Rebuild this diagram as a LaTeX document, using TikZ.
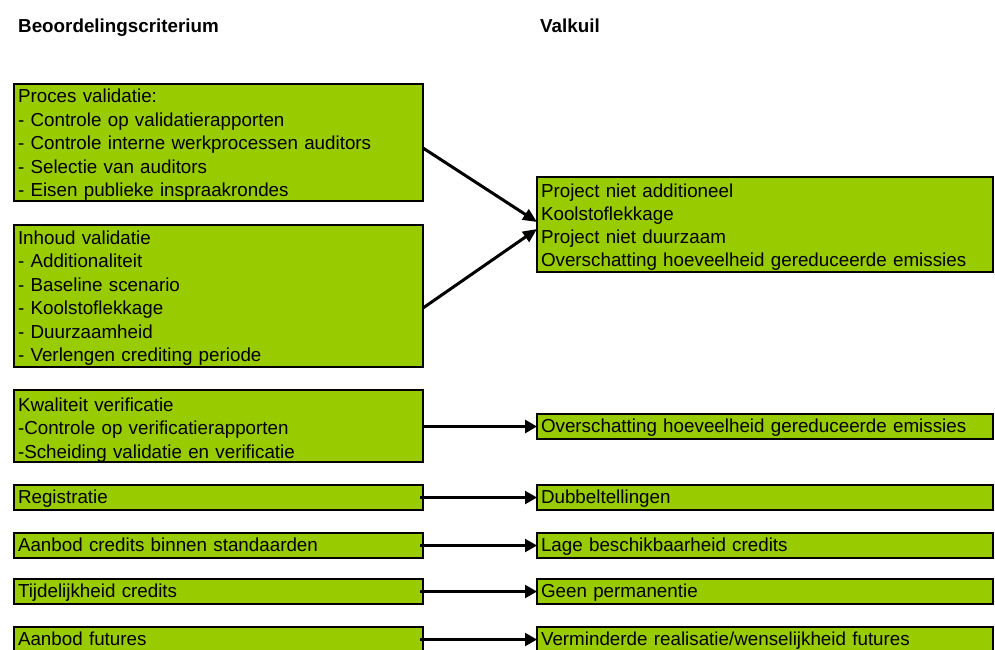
\documentclass[tikz,border=0pt]{standalone}
\usepackage{fontspec}
\setmainfont{Liberation Sans}
\usetikzlibrary{arrows.meta,calc,shadows}
\definecolor{boxgreen}{RGB}{153,204,0}
\tikzset{
  gbox/.style={draw=black, line width=1.8pt, fill=boxgreen,
    drop shadow={shadow xshift=1.1pt, shadow yshift=-1.1pt, fill=black, opacity=1},
    anchor=north west, inner xsep=4pt, inner ysep=0pt, outer sep=0pt,
    align=left, font=\fontsize{18.8}{23.5}\selectfont},
  lbox/.style={gbox, text width=401pt, minimum width=409pt},
  rbox/.style={gbox, text width=448pt, minimum width=456pt},
  single/.style={text height=18pt, text depth=7pt},
  head/.style={anchor=base west, inner sep=0pt, font=\fontsize{18.8}{23.5}\selectfont\bfseries},
  thinarrow/.style={line width=2.3pt, -{Triangle[length=12pt,width=13pt]}},
  thickarrow/.style={line width=3.8pt, -{Triangle[length=12pt,width=13pt]}},
  diagarrow/.style={line width=3pt, -{Triangle[length=14pt,width=12pt]}},
}
\begin{document}
\begin{tikzpicture}[x=1pt,y=-1pt]
\useasboundingbox (0,0) rectangle (995,649);
\clip (0,0) rectangle (995,649);

\node[head] (h1) at (18,32) {Beoordelingscriterium};
\node[head] (h2) at (540,32) {Valkuil};

% left column
\node[lbox, text height=18.7pt, text depth=98.3pt] (b1) at (14,84)
  {Proces validatie:\\- Controle op validatierapporten\\- Controle interne werkprocessen auditors\\- Selectie van auditors\\- Eisen publieke inspraakrondes};
\node[lbox, text height=19.3pt, text depth=122.7pt] (b2) at (14,225)
  {Inhoud validatie\\- Additionaliteit\\- Baseline scenario\\- Koolstoflekkage\\- Duurzaamheid\\- Verlengen crediting periode};
\node[lbox, text height=21pt, text depth=51pt] (b3) at (14,390)
  {Kwaliteit verificatie\\-Controle op verificatierapporten\\-Scheiding validatie en verificatie};
\node[lbox, single] (b4) at (14,485) {Registratie};
\node[lbox, single] (b5) at (14,533) {Aanbod credits binnen standaarden};
\node[lbox, single] (b6) at (14,579) {Tijdelijkheid credits};
\node[lbox, single] (b7) at (14,627) {Aanbod futures};

% right column
\node[rbox, text height=20pt, text depth=75pt, font=\fontsize{18.8}{23.3}\selectfont] (r1) at (537,177)
  {Project niet additioneel\\Koolstoflekkage\\Project niet duurzaam\\Overschatting hoeveelheid gereduceerde emissies};
\node[rbox, single] (r3) at (537,414) {Overschatting hoeveelheid gereduceerde emissies};
\node[rbox, single] (r4) at (537,485) {Dubbeltellingen};
\node[rbox, single] (r5) at (537,533) {Lage beschikbaarheid credits};
\node[rbox, single] (r6) at (537,579) {Geen permanentie};
\node[rbox, single] (r7) at (537,627) {Verminderde realisatie/wenselijkheid futures};

% connectors
\draw[diagarrow] ($(b1.east)+(0,5.5)$) -- ($(r1.west)+(0,-2.5)$);
\draw[diagarrow] ($(b2.east)+(0,12)$) -- ($(r1.west)+(0,4.5)$);
\draw[thickarrow] (b3.east |- r3.west) -- (r3.west);
\draw[thinarrow] ($(b4.east)+(-3,0)$) -- (r4.west);
\draw[thinarrow] ($(b5.east)+(-3,0)$) -- (r5.west);
\draw[thinarrow] ($(b6.east)+(-3,0)$) -- (r6.west);
\draw[thinarrow] ($(b7.east)+(-3,0)$) -- (r7.west);
\end{tikzpicture}
\end{document}
